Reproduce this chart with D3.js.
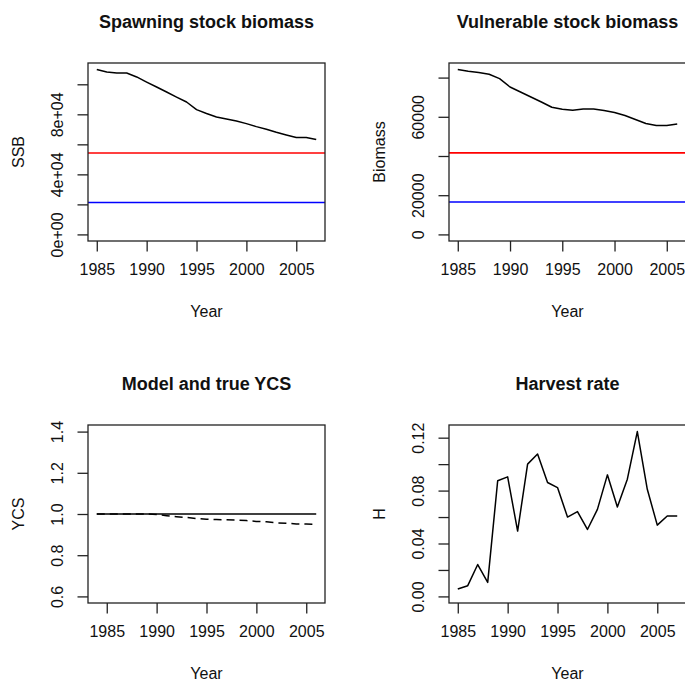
<!DOCTYPE html>
<html>
<head>
<meta charset="utf-8">
<script src="https://cdn.jsdelivr.net/npm/d3@7"></script>
<style>
    body { margin: 0; background: #fff; }
    svg { display: block; }
    svg text { font-family: 'Liberation Sans', Arial, Helvetica, sans-serif; }
</style>
</head>
<body>
<svg id="chart" width="685" height="682"></svg>
<script>
// data
const ssbYears = d3.range(1985, 2008);
const ssbValues = [109800, 108200, 107500, 107500, 104900, 101500, 98200, 94900, 91500, 88200,
    83100, 80500, 78200, 76900, 75500, 73800, 71800, 70000, 68000, 66200, 64500, 64500, 63300];
const ssbRefRed = 54200;
const ssbRefBlue = 21300;

const vbYears = d3.range(1985, 2007);
const vbValues = [84080, 83210, 82550, 81680, 79490, 75210, 72660, 70110, 67570, 64870,
    63850, 63340, 64000, 64000, 63190, 62170, 60640, 58600, 56560, 55540, 55540, 56360];
const vbRefRed = 41600;
const vbRefBlue = 16500;

const ycsYears = d3.range(1984, 2007);
const ycsModel = [1, 1, 1, 1, 1, 1, 1, 1, 1, 1, 1, 1, 1, 1, 1, 1, 1, 1, 1, 1, 1, 1, 1];
const ycsTrue = [1, 1, 1, 1, 1, 1, 0.998, 0.992, 0.987, 0.983, 0.978, 0.975, 0.973, 0.972,
    0.971, 0.968, 0.964, 0.962, 0.957, 0.955, 0.952, 0.951, 0.950];

const hYears = d3.range(1985, 2008);
const hValues = [0.0056, 0.0081, 0.0241, 0.0106, 0.0874, 0.0904, 0.0494, 0.1000, 0.1076, 0.0861,
    0.0823, 0.0600, 0.0641, 0.0506, 0.0658, 0.0919, 0.0676, 0.0886, 0.1246, 0.0810,
    0.0539, 0.0608, 0.0608];

const yearTicks = [1985, 1990, 1995, 2000, 2005];

// plot regions (the right column runs past the picture edge)
const plotW = 237;
const plotH = 178;
const fontTick = 16;
const fontTitle = 18;
const tickLen = 10.5;

const svg = d3.select('#chart');

// R style axis extension of 4%
function extend(lo, hi) {
    const d = (hi - lo) * 0.04;
    return [lo - d, hi + d];
}

function drawPanel(p) {
    const g = svg.append('g').attr('transform', 'translate(' + p.left + ',' + p.top + ')');

    const x = d3.scaleLinear().domain(extend(d3.min(p.xs), d3.max(p.xs))).range([0, plotW]);
    const y = d3.scaleLinear().domain(extend(p.ylim[0], p.ylim[1])).range([plotH, 0]);

    // reference lines
    (p.hlines || []).forEach(h => {
        g.append('line')
            .attr('x1', 0).attr('x2', plotW)
            .attr('y1', y(h.value)).attr('y2', y(h.value))
            .attr('stroke', h.color)
            .attr('stroke-width', 1.6);
    });

    // series
    p.series.forEach(s => {
        const line = d3.line().x((d, i) => x(p.xs[i])).y(d => y(d));
        g.append('path')
            .datum(s.values)
            .attr('d', line)
            .attr('fill', 'none')
            .attr('stroke', '#000')
            .attr('stroke-width', 1.5)
            .attr('stroke-linejoin', 'round')
            .attr('stroke-dasharray', s.dash || null);
    });

    // box
    g.append('rect')
        .attr('x', 0).attr('y', 0)
        .attr('width', plotW).attr('height', plotH)
        .attr('fill', 'none')
        .attr('stroke', '#222')
        .attr('stroke-width', 1.3);

    // x axis
    const xAxis = d3.axisBottom(x)
        .tickValues(yearTicks)
        .tickSizeInner(tickLen)
        .tickSizeOuter(0)
        .tickPadding(12)
        .tickFormat(d3.format('d'));
    const gx = g.append('g').attr('transform', 'translate(0,' + plotH + ')').call(xAxis)
        .attr('font-family', null).attr('font-size', null);
    gx.select('.domain').remove();
    gx.selectAll('line').attr('stroke', '#222').attr('stroke-width', 1.3);
    gx.selectAll('text').attr('font-size', fontTick).attr('fill', '#111');

    // y axis (labels rotated, as R does with las = 0)
    const yAxis = d3.axisLeft(y)
        .tickValues(p.yticks)
        .tickSizeInner(tickLen)
        .tickSizeOuter(0)
        .tickFormat(d => p.ylabels.has(d) ? p.yfmt(d) : '');
    const gy = g.append('g').call(yAxis)
        .attr('font-family', null).attr('font-size', null);
    gy.select('.domain').remove();
    gy.selectAll('line').attr('stroke', '#222').attr('stroke-width', 1.3);
    gy.selectAll('text')
        .attr('font-size', fontTick)
        .attr('fill', '#111')
        .attr('x', null).attr('dy', null)
        .attr('text-anchor', 'middle')
        .attr('transform', 'translate(-25.5,0) rotate(-90)');

    // title and labels
    g.append('text')
        .attr('x', plotW / 2).attr('y', -35)
        .attr('text-anchor', 'middle')
        .attr('font-size', fontTitle)
        .attr('font-weight', 'bold')
        .attr('fill', '#111')
        .text(p.title);

    g.append('text')
        .attr('x', plotW / 2).attr('y', plotH + 76)
        .attr('text-anchor', 'middle')
        .attr('font-size', fontTick)
        .attr('fill', '#111')
        .text('Year');

    g.append('text')
        .attr('transform', 'translate(-64,' + (plotH / 2) + ') rotate(-90)')
        .attr('text-anchor', 'middle')
        .attr('font-size', fontTick)
        .attr('fill', '#111')
        .text(p.ylab);
}

drawPanel({
    left: 88, top: 63,
    xs: ssbYears,
    ylim: [0, d3.max(ssbValues)],
    yticks: [0, 20000, 40000, 60000, 80000, 100000],
    ylabels: new Set([0, 40000, 80000]),
    yfmt: d => d === 0 ? '0e+00' : (d / 10000) + 'e+04',
    series: [{ values: ssbValues }],
    hlines: [{ value: ssbRefRed, color: '#ff0000' }, { value: ssbRefBlue, color: '#0000ff' }],
    title: 'Spawning stock biomass',
    ylab: 'SSB'
});

drawPanel({
    left: 449, top: 63,
    xs: vbYears,
    ylim: [0, d3.max(vbValues)],
    yticks: [0, 20000, 40000, 60000, 80000],
    ylabels: new Set([0, 20000, 60000]),
    yfmt: d => String(d),
    series: [{ values: vbValues }],
    hlines: [{ value: vbRefRed, color: '#ff0000' }, { value: vbRefBlue, color: '#0000ff' }],
    title: 'Vulnerable stock biomass',
    ylab: 'Biomass'
});

drawPanel({
    left: 88, top: 425,
    xs: ycsYears,
    ylim: [0.6, 1.4],
    yticks: [0.6, 0.8, 1.0, 1.2, 1.4],
    ylabels: new Set([0.6, 0.8, 1.0, 1.2, 1.4]),
    yfmt: d3.format('.1f'),
    series: [{ values: ycsModel }, { values: ycsTrue, dash: '8,5' }],
    title: 'Model and true YCS',
    ylab: 'YCS'
});

drawPanel({
    left: 449, top: 425,
    xs: hYears,
    ylim: [0, d3.max(hValues)],
    yticks: [0, 0.02, 0.04, 0.06, 0.08, 0.10, 0.12],
    ylabels: new Set([0, 0.04, 0.08, 0.12]),
    yfmt: d3.format('.2f'),
    series: [{ values: hValues }],
    title: 'Harvest rate',
    ylab: 'H'
});
</script>
</body>
</html>
